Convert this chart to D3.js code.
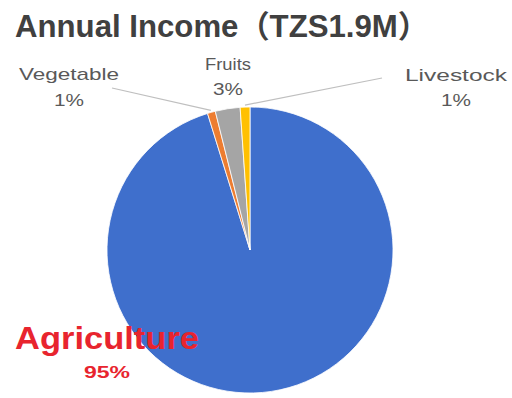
<!DOCTYPE html>
<html>
<head>
<meta charset="utf-8">
<script src="https://cdn.jsdelivr.net/npm/d3@7"></script>
<style>
  html, body { margin: 0; padding: 0; background: #fff; }
  svg { display: block; }
</style>
</head>
<body>
<svg id="chart" width="512" height="398"></svg>
<script>
// Income sources (share of annual income, %)
const categories = ["Agriculture", "Vegetable", "Fruits", "Livestock"];
const shares = [95.2, 0.9, 2.8, 1.1];
const colors = ["#3F6FCC", "#ED7D31", "#A5A5A5", "#FFC000"];
const titleText = "Annual Income\uFF08TZS1.9M\uFF09";

const W = 512, H = 398;
const cx = 250, cy = 250, R = 143;

const svg = d3.select("#chart");
const fontLatin = "'Liberation Sans', Arial, 'Noto Sans CJK JP', sans-serif";

const data = categories.map((c, i) => ({ name: c, value: shares[i], color: colors[i] }));

const pie = d3.pie().sort(null).value(d => d.value).startAngle(0).endAngle(2 * Math.PI);
const arc = d3.arc().innerRadius(0).outerRadius(R);
const arcs = pie(data);

const g = svg.append("g").attr("transform", `translate(${cx},${cy})`);

g.selectAll("path.slice")
  .data(arcs)
  .join("path")
  .attr("class", "slice")
  .attr("d", arc)
  .attr("fill", d => d.data.color)
  .attr("stroke", "#ffffff")
  .attr("stroke-width", 0.8)
  .attr("stroke-linejoin", "round");

// Title
svg.append("text")
  .attr("x", 15).attr("y", 37)
  .attr("font-family", fontLatin)
  .attr("font-weight", "bold")
  .attr("font-size", 31)
  .attr("fill", "#404040")
  .attr("textLength", 414)
  .attr("lengthAdjust", "spacingAndGlyphs")
  .text(titleText);

// Label placement (name line centre, percent line centre, leader line)
const labelLayout = {
  Agriculture: { x: 107, y: 349, py: 378, nameSize: 31, pctSize: 17, width: 184, pw: 46, color: "#E8242E", bold: true, leader: false },
  Vegetable:   { x: 69,  y: 80,  py: 106, nameSize: 17, pctSize: 17, width: 100, pw: 30, color: "#595959", bold: false, leader: true, lx: 112, ly: 88 },
  Fruits:      { x: 228, y: 70,  py: 95,  nameSize: 17, pctSize: 17, width: 46,  pw: 30, color: "#595959", bold: false, leader: false },
  Livestock:   { x: 456, y: 81,  py: 106, nameSize: 17, pctSize: 17, width: 102, pw: 30, color: "#595959", bold: false, leader: true, lx: 382, ly: 78 }
};

const fmt = d3.format(".0%");

arcs.forEach(a => {
  const L = labelLayout[a.data.name];
  if (L.leader) {
    const mid = (a.startAngle + a.endAngle) / 2;
    const px = cx + (R + 2) * Math.sin(mid);
    const py = cy - (R + 2) * Math.cos(mid);
    svg.append("line")
      .attr("x1", L.lx).attr("y1", L.ly)
      .attr("x2", px).attr("y2", py)
      .attr("stroke", "#BFBFBF")
      .attr("stroke-width", 1.2);
  }
  svg.append("text")
    .attr("x", L.x).attr("y", L.y)
    .attr("text-anchor", "middle")
    .attr("font-family", fontLatin)
    .attr("font-weight", L.bold ? "bold" : "normal")
    .attr("font-size", L.nameSize)
    .attr("fill", L.color)
    .attr("textLength", L.width)
    .attr("lengthAdjust", "spacingAndGlyphs")
    .text(a.data.name);
  svg.append("text")
    .attr("x", L.x).attr("y", L.py)
    .attr("text-anchor", "middle")
    .attr("font-family", fontLatin)
    .attr("font-weight", L.bold ? "bold" : "normal")
    .attr("font-size", L.pctSize)
    .attr("fill", L.color)
    .attr("textLength", L.pw)
    .attr("lengthAdjust", "spacingAndGlyphs")
    .text(fmt(a.data.value / 100));
});
</script>
</body>
</html>
